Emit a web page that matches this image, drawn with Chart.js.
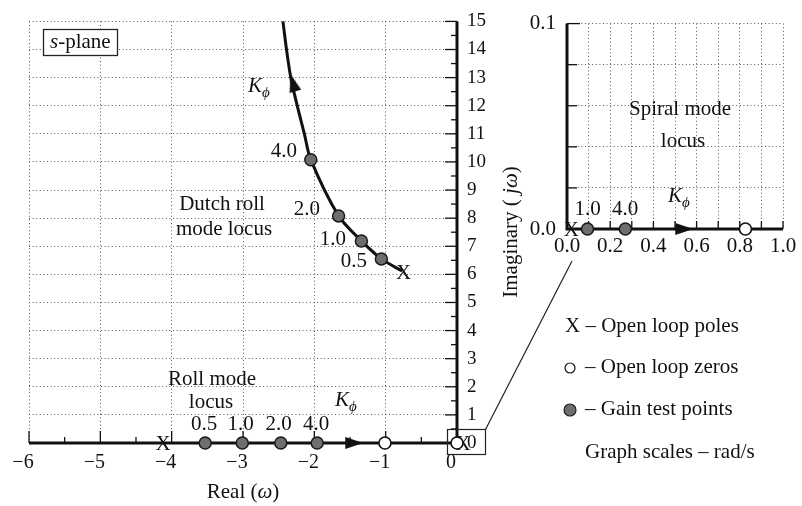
<!DOCTYPE html>
<html>
<head>
<meta charset="utf-8">
<script src="https://cdn.jsdelivr.net/npm/chart.js@4/dist/chart.umd.min.js"></script>
<style>
  html, body { margin: 0; padding: 0; background: #fff; }
  #wrap { position: relative; width: 802px; height: 506px; }
  #main { position: absolute; left: 0; top: 0; }
  #inset { position: absolute; left: 500px; top: 0; }
</style>
</head>
<body>
<div id="wrap">
  <canvas id="main" width="802" height="506"></canvas>
  <canvas id="inset" width="302" height="280"></canvas>
</div>
<script>
// Roll-angle feedback root locus (values in rad/s).
const gains = ["0.5", "1.0", "2.0", "4.0"];

// s-plane, main view
const realTicks = [-6, -5, -4, -3, -2, -1, 0];
const realLabels = ["\u22126", "\u22125", "\u22124", "\u22123", "\u22122", "\u22121", "0"];
const imagTicks = [0, 1, 2, 3, 4, 5, 6, 7, 8, 9, 10, 11, 12, 13, 14, 15];
const imagLabels = imagTicks.map(String);

const dutchPole = [-0.75, 6.08];
const dutchBranch = [[-0.77, 6.12], [-1.06, 6.55], [-1.34, 7.19], [-1.66, 8.08],
                     [-2.05, 10.08], [-2.14, 11], [-2.24, 12], [-2.33, 13], [-2.39, 14], [-2.44, 15]];
const dutchGainPts = [[-1.06, 6.55], [-1.34, 7.19], [-1.66, 8.08], [-2.05, 10.08]];
const rollPole = [-4.12, 0];
const rollGainPts = [[-3.53, 0], [-3.01, 0], [-2.47, 0], [-1.96, 0]];
const mainZeros = [[-1.01, 0], [0, 0]];
const originPole = [0.085, 0];
const mainArrows = [[-2.30, 12.82], [-1.44, 0]];
const mainArrowHeading = [-16, 90];

// spiral mode, zoomed view
const spiralXTicks = [0, 0.1, 0.2, 0.3, 0.4, 0.5, 0.6, 0.7, 0.8, 0.9, 1.0];
const spiralXLabels = ["0.0", "", "0.2", "", "0.4", "", "0.6", "", "0.8", "", "1.0"];
const spiralYTicks = [0, 0.02, 0.04, 0.06, 0.08, 0.1];
const spiralYLabels = ["0.0", "", "", "", "", "0.1"];
const spiralPole = [0.02, 0];
const spiralGainPts = [[0.095, 0], [0.27, 0]];
const spiralGains = ["1.0", "4.0"];
const spiralZeros = [[0.826, 0]];
const spiralArrows = [[0.543, 0]];
const spiralArrowHeading = [90];

const SERIF = '"Liberation Serif", "Times New Roman", serif';
const INK = "#111";
const GRID = "#555";
const GAIN_FILL = "#6e6e6e";

const xy = (pts) => pts.map(([x, y]) => ({ x, y }));
const font = (size, italic) => (italic ? "italic " : "") + size + "px " + SERIF;

// text with mixed italic / subscript runs
function drawRich(ctx, parts, x, y, align, size) {
    size = size || 21;
    let w = 0;
    const runs = parts.map((p) => {
        const s = p.sub ? Math.round(size * 0.72) : size;
        ctx.font = font(s, p.it);
        const pw = ctx.measureText(p.t).width;
        w += pw;
        return { p, s, pw };
    });
    let cx = align === "center" ? x - w / 2 : align === "right" ? x - w : x;
    ctx.textAlign = "left";
    ctx.textBaseline = "alphabetic";
    ctx.fillStyle = INK;
    for (const r of runs) {
        ctx.font = font(r.s, r.p.it);
        ctx.fillText(r.p.t, cx, y + (r.p.sub ? 5 : 0));
        cx += r.pw;
    }
}

const K_PHI = [{ t: "K", it: true }, { t: "\u03d5", it: true, sub: true }];

// free text placed on the page (page pixels)
const mainNotes = [
    { parts: K_PHI, x: 248, y: 92 },
    { parts: [{ t: "Dutch roll" }], x: 222, y: 210, align: "center" },
    { parts: [{ t: "mode locus" }], x: 224, y: 235, align: "center" },
    { parts: [{ t: "Roll mode" }], x: 212, y: 385, align: "center" },
    { parts: [{ t: "locus" }], x: 211, y: 408, align: "center" },
    { parts: K_PHI, x: 335, y: 406 },
];
const dutchGainSpots = [[367, 267, "right"], [346, 245, "right"], [320, 215, "right"], [297, 157, "right"]];
const rollGainSpots = [[204, 430, "center"], [240.5, 430, "center"], [278.5, 430, "center"], [316, 430, "center"]];
const insetNotes = [
    { parts: [{ t: "Spiral mode" }], x: 680, y: 115, align: "center" },
    { parts: [{ t: "locus" }], x: 683, y: 147, align: "center" },
    { parts: K_PHI, x: 668, y: 202 },
];
const spiralGainSpots = [[587.5, 215, "center"], [625, 215, "center"]];
const INSET_LEFT = 500;

function arrowHead() {
    const c = document.createElement("canvas");
    c.width = 14; c.height = 20;
    const g = c.getContext("2d");
    g.fillStyle = INK;
    g.beginPath();
    g.moveTo(7, 1); g.lineTo(13, 19); g.lineTo(1, 19);
    g.closePath(); g.fill();
    return c;
}
const ARROW = arrowHead();

function poleMark(ctx, sx, sy, p) {
    ctx.font = font(21, false);
    ctx.fillStyle = INK;
    ctx.textAlign = "center";
    ctx.textBaseline = "alphabetic";
    ctx.fillText("X", sx.getPixelForValue(p[0]), sy.getPixelForValue(p[1]) + 7);
}

function tick(ctx, x1, y1, x2, y2) {
    ctx.beginPath(); ctx.moveTo(x1, y1); ctx.lineTo(x2, y2); ctx.stroke();
}

const mainDecor = {
    id: "mainDecor",
    beforeDatasetsDraw(chart) {
        const { ctx, scales: { x, y } } = chart;
        const x0 = x.getPixelForValue(0), y0 = y.getPixelForValue(0);
        ctx.save();
        ctx.strokeStyle = INK;
        ctx.lineWidth = 1.3;
        for (let v = -6; v < 0; v += 0.5) {
            const px = x.getPixelForValue(v);
            tick(ctx, px, y0, px, y0 - (Number.isInteger(v) ? 12 : 6));
        }
        for (let v = 0.5; v <= 15; v += 0.5) {
            const py = y.getPixelForValue(v);
            tick(ctx, x0, py, x0 - (Number.isInteger(v) ? 12 : 6), py);
        }
        ctx.lineWidth = 3;
        ctx.beginPath();
        ctx.moveTo(x.getPixelForValue(-6), y0); ctx.lineTo(x0 + 1.5, y0);
        ctx.moveTo(x0, y0); ctx.lineTo(x0, y.getPixelForValue(15));
        ctx.stroke();
        poleMark(ctx, x, y, dutchPole);
        poleMark(ctx, x, y, rollPole);
        poleMark(ctx, x, y, originPole);
        ctx.restore();
    },
    afterDatasetsDraw(chart) {
        const { ctx } = chart;
        ctx.save();
        // s-plane tag
        ctx.fillStyle = "#fff";
        ctx.fillRect(43, 29, 75, 26);
        ctx.strokeStyle = "#222";
        ctx.lineWidth = 1.3;
        ctx.strokeRect(43.5, 29.5, 74, 26);
        drawRich(ctx, [{ t: "s", it: true }, { t: "-plane" }], 50, 48);
        // zoom box at the origin and its leader to the spiral view
        ctx.lineWidth = 1.2;
        ctx.strokeRect(447.5, 429.5, 38, 25);
        ctx.beginPath(); ctx.moveTo(485.5, 429.5); ctx.lineTo(572, 261); ctx.stroke();

        mainNotes.forEach((n) => drawRich(ctx, n.parts, n.x, n.y, n.align));
        dutchGainSpots.forEach(([px, py, a], i) => drawRich(ctx, [{ t: gains[i] }], px, py, a));
        rollGainSpots.forEach(([px, py, a], i) => drawRich(ctx, [{ t: gains[i] }], px, py, a));

        // axis titles
        drawRich(ctx, [{ t: "Real (" }, { t: "\u03c9", it: true }, { t: ")" }], 243, 498, "center");
        ctx.translate(517, 232);
        ctx.rotate(-Math.PI / 2);
        drawRich(ctx, [{ t: "Imaginary ( " }, { t: "j\u03c9", it: true }, { t: ")" }], 0, 0, "center");
        ctx.setTransform(1, 0, 0, 1, 0, 0);

        // key
        drawRich(ctx, [{ t: "X \u2013 Open loop poles" }], 565, 332);
        ctx.beginPath(); ctx.arc(570, 368, 5, 0, Math.PI * 2);
        ctx.fillStyle = "#fff"; ctx.fill();
        ctx.strokeStyle = INK; ctx.lineWidth = 1.2; ctx.stroke();
        drawRich(ctx, [{ t: "\u2013 Open loop zeros" }], 585, 373);
        ctx.beginPath(); ctx.arc(570, 410, 6, 0, Math.PI * 2);
        ctx.fillStyle = GAIN_FILL; ctx.fill();
        ctx.strokeStyle = "#222"; ctx.lineWidth = 1.2; ctx.stroke();
        drawRich(ctx, [{ t: "\u2013 Gain test points" }], 585, 415);
        drawRich(ctx, [{ t: "Graph scales \u2013 rad/s" }], 585, 458);
        ctx.restore();
    },
};

const insetDecor = {
    id: "insetDecor",
    beforeDatasetsDraw(chart) {
        const { ctx, scales: { x, y } } = chart;
        const x0 = x.getPixelForValue(0), y0 = y.getPixelForValue(0);
        ctx.save();
        ctx.strokeStyle = INK;
        ctx.lineWidth = 1.3;
        spiralYTicks.slice(1).forEach((v, i, a) => {
            const py = y.getPixelForValue(v);
            tick(ctx, x0, py, x0 + (i === a.length - 1 ? 13 : 10), py);
        });
        spiralXTicks.slice(1).forEach((v) => {
            const px = x.getPixelForValue(v);
            tick(ctx, px, y0, px, y0 - 8);
        });
        ctx.lineWidth = 3;
        ctx.beginPath();
        ctx.moveTo(x0 - 1.5, y0); ctx.lineTo(x.getPixelForValue(1), y0);
        ctx.moveTo(x0, y0); ctx.lineTo(x0, y.getPixelForValue(0.1));
        ctx.stroke();
        ctx.restore();
    },
    afterDatasetsDraw(chart) {
        const { ctx, scales: { x, y } } = chart;
        ctx.save();
        poleMark(ctx, x, y, spiralPole);
        insetNotes.forEach((n) => drawRich(ctx, n.parts, n.x - INSET_LEFT, n.y, n.align));
        spiralGainSpots.forEach(([px, py, a], i) =>
            drawRich(ctx, [{ t: spiralGains[i] }], px - INSET_LEFT, py, a));
        ctx.restore();
    },
};

function markerSets(gainPts, zeros, arrows, heading) {
    return [
        { data: xy(gainPts), pointRadius: 6, pointBackgroundColor: GAIN_FILL,
          pointBorderColor: "#1a1a1a", pointBorderWidth: 1.5, clip: false },
        { data: xy(zeros), pointRadius: 6, pointBackgroundColor: "#fff",
          pointBorderColor: INK, pointBorderWidth: 1.6, clip: false },
        { data: xy(arrows), pointRadius: 9, pointStyle: ARROW,
          rotation: (c) => heading[c.dataIndex], clip: false },
    ];
}

const tickFont = (size) => ({ family: SERIF, size });
const dotted = { display: false, dash: [1, 2.6] };

new Chart(document.getElementById("main"), {
    type: "scatter",
    data: {
        datasets: markerSets(dutchGainPts.concat(rollGainPts), mainZeros, mainArrows, mainArrowHeading)
            .concat([{ data: xy(dutchBranch), showLine: true, borderColor: INK, borderWidth: 3,
                       tension: 0.3, pointRadius: 0, clip: false }]),
    },
    options: {
        responsive: false,
        animation: false,
        devicePixelRatio: 1,
        events: [],
        layout: { padding: { left: 29, top: 14, right: 305, bottom: 3 } },
        plugins: { legend: { display: false }, tooltip: { enabled: false } },
        scales: {
            x: {
                type: "linear", min: -6, max: 0,
                afterBuildTicks: (s) => { s.ticks = realTicks.map((v) => ({ value: v })); },
                afterFit: (s) => { s.height = 60; },
                grid: { color: GRID, lineWidth: 1, drawTicks: false },
                border: dotted,
                ticks: { color: INK, font: tickFont(20), padding: 8, labelOffset: -6,
                         maxRotation: 0, autoSkip: false, callback: (v, i) => realLabels[i] },
            },
            y: {
                type: "linear", position: "right", min: 0, max: 15,
                afterBuildTicks: (s) => { s.ticks = imagTicks.map((v) => ({ value: v })); },
                afterFit: (s) => { s.width = 40; },
                grid: { color: GRID, lineWidth: 1, drawTicks: false },
                border: dotted,
                ticks: { color: INK, font: tickFont(19), padding: 10, autoSkip: false,
                         callback: (v, i) => imagLabels[i] },
            },
        },
    },
    plugins: [mainDecor],
});

new Chart(document.getElementById("inset"), {
    type: "scatter",
    data: { datasets: markerSets(spiralGainPts, spiralZeros, spiralArrows, spiralArrowHeading) },
    options: {
        responsive: false,
        animation: false,
        devicePixelRatio: 1,
        events: [],
        layout: { padding: { left: 0, top: 15, right: 19, bottom: 11 } },
        plugins: { legend: { display: false }, tooltip: { enabled: false } },
        scales: {
            x: {
                type: "linear", min: 0, max: 1,
                afterBuildTicks: (s) => { s.ticks = spiralXTicks.map((v) => ({ value: v })); },
                afterFit: (s) => { s.height = 40; },
                grid: { color: GRID, lineWidth: 1, drawTicks: false },
                border: dotted,
                ticks: { color: INK, font: tickFont(21), padding: 5, maxRotation: 0,
                         autoSkip: false, callback: (v, i) => spiralXLabels[i] },
            },
            y: {
                type: "linear", position: "left", min: 0, max: 0.1,
                afterBuildTicks: (s) => { s.ticks = spiralYTicks.map((v) => ({ value: v })); },
                afterFit: (s) => { s.width = 67; },
                grid: { color: GRID, lineWidth: 1, drawTicks: false },
                border: dotted,
                ticks: { color: INK, font: tickFont(21), padding: 11, autoSkip: false,
                         callback: (v, i) => spiralYLabels[i] },
            },
        },
    },
    plugins: [insetDecor],
});
</script>
</body>
</html>
